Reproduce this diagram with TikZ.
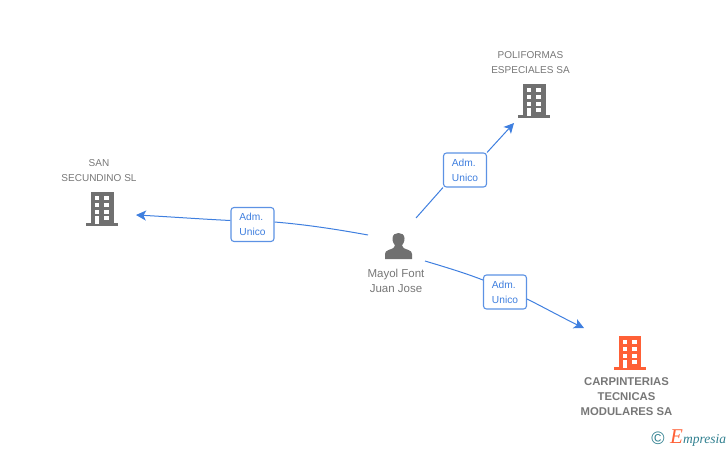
\documentclass[tikz,border=0pt]{standalone}
\usepackage{fontspec}
\setmainfont{Liberation Sans}
\newfontfamily\logofont{Liberation Serif}
\usetikzlibrary{arrows.meta,shadings}
\definecolor{linkblue}{HTML}{3F7FDF}
\definecolor{icongray}{HTML}{707070}
\definecolor{txtgray}{HTML}{777777}
\definecolor{iconorange}{HTML}{FF6036}
\definecolor{logoteal}{HTML}{2F7F8F}
\newcommand{\admunico}{\raisebox{-1pt}{Adm.\hspace*{2.5pt}}\\\raisebox{-1pt}{Unico}}
\tikzset{
  x=1pt,y=-1pt,
  caption/.style={align=center,text=txtgray,font=\fontsize{10}{15}\selectfont,inner sep=0pt},
  personcaption/.style={caption,font=\fontsize{11.5}{15}\selectfont},
  boldcaption/.style={caption,font=\fontsize{11.3}{15}\selectfont\bfseries},
  relbox/.style={draw=linkblue!85,line width=1.1pt,rounded corners=3pt,minimum width=43pt,minimum height=34pt,
    inner sep=0pt,fill=white,align=center,text=linkblue,
    font=\fontsize{10.2}{15}\selectfont},
  link/.style={draw=linkblue,line width=1pt},
  arrowlink/.style={link,-{Stealth[length=10pt,width=10pt,inset=2.5pt]}},
  pics/building/.style={code={
    \fill[#1] (-11,0) rectangle (11.5,31.5);
    \fill[#1] (-16,31.2) rectangle (16,34);
    \foreach \yy/\hh in {3.7/4.6,11/4,17.7/4,24/4.3}{
      \fill[white] (2.3,\yy) rectangle ++(5,\hh);
    }
    \foreach \yy/\hh in {3.7/4.6,11/4,17.7/4}{
      \fill[white] (-7,\yy) rectangle ++(4.3,\hh);
    }
    \fill[white] (-7,24) rectangle (-2.7,31.5);
  }},
  pics/person/.style={code={
    \fill[icongray] (-6,5.5) .. controls (-6,1.5) and (-3,0) .. (0,0)
      .. controls (3,0) and (6,1.5) .. (6,5.5)
      .. controls (6,9) and (4.5,11) .. (3.5,12.5)
      .. controls (3.5,15) and (6,15.5) .. (10,17)
      .. controls (12.5,18) and (13.5,19) .. (13.5,21)
      -- (13.5,26) -- (-13.5,26) -- (-13.5,21)
      .. controls (-13.5,19) and (-12.5,18) .. (-10,17)
      .. controls (-6,15.5) and (-3.5,15) .. (-3.5,12.5)
      .. controls (-4.5,11) and (-6,9) .. (-6,5.5) -- cycle;
  }}
}
\begin{document}
\begin{tikzpicture}
\useasboundingbox (0,0) rectangle (728,450);
% icons
\pic at (534,84) {building=icongray};
\pic at (102,192) {building=icongray};
\pic at (629.5,336) {building=iconorange};
\pic at (398.5,233) {person};
% captions
\node[caption] (poli) at (530.5,62.5) {POLIFORMAS\\ESPECIALES SA};
\node[caption] (san) at (99,171) {SAN\\SECUNDINO SL};
\node[personcaption] (mayol) at (396,281) {Mayol Font\\Juan Jose};
\node[boldcaption] (carp) at (626.5,396.5) {CARPINTERIAS\\TECNICAS\\MODULARES SA};
% label boxes
\node[relbox] (r1) at (465,170) {\admunico};
\node[relbox] (r2) at (252.5,224.5) {\admunico};
\node[relbox] (r3) at (505,292) {\admunico};
% connector ends
\coordinate (p1) at (416,218);
\coordinate (p2) at (368,235);
\coordinate (p3) at (425,261);
\coordinate (t1) at (514,123);
\coordinate (t2) at (136,215);
\coordinate (t3) at (584,328);
% connectors
\draw[link] (p1) -- (r1.south west);
\draw[arrowlink] (r1.north east) -- (t1);
\draw[link] (p2) .. controls (335,229) and (305,224.5) .. (r2.east |- 0,222);
\draw[arrowlink] (r2.west |- 0,220.5) .. controls (200,219) and (165,216.5) .. (t2);
\draw[link] (p3) .. controls (445,267) and (465,273) .. (r3.west |- 0,280);
\draw[arrowlink] (r3.east |- 0,299) .. controls (545,308) and (565,319) .. (t3);
% logo
\node[inner sep=0pt,text=logoteal,font=\fontsize{18}{18}\selectfont] (copy) at (658,438.5) {©};
\node[inner sep=0pt,anchor=base west,text=logoteal,font=\logofont\itshape\fontsize{13.5}{15}\selectfont] (logo) at (670,443)
  {\textcolor{iconorange}{\fontsize{21}{15}\selectfont E}mpresia};
\end{tikzpicture}
\end{document}
